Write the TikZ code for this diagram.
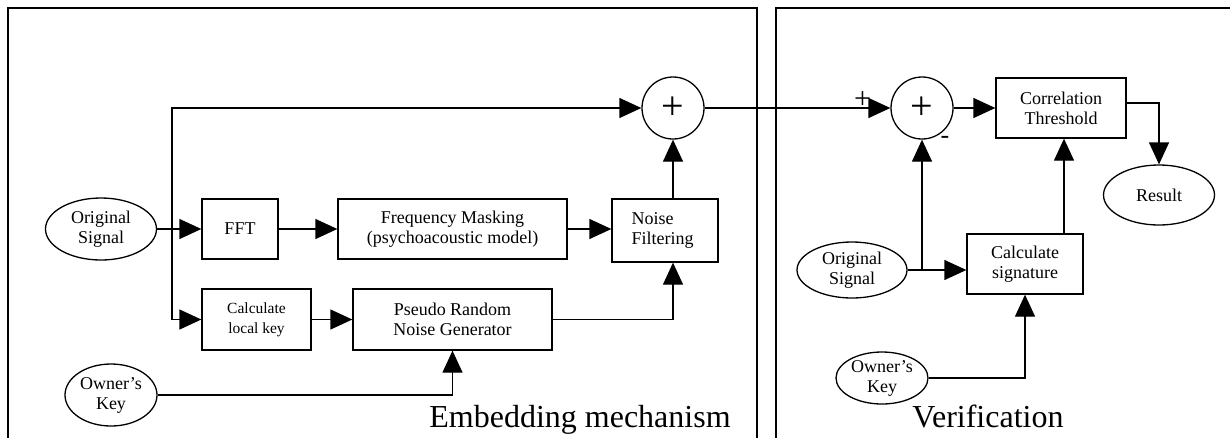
\documentclass[tikz,border=0pt]{standalone}
\usepackage{fontspec}
\setmainfont{Liberation Serif}
\usetikzlibrary{arrows.meta,shapes.geometric}

\tikzset{
  blok/.style={draw, line width=1.3pt, inner sep=0pt, align=center,
    font=\fontsize{18}{20}\selectfont},
  ovaal/.style={draw, ellipse, line width=1.3pt, inner sep=0pt, align=center,
    font=\fontsize{18}{20}\selectfont},
  som/.style={draw, circle, line width=1.3pt, minimum size=62pt, inner sep=0pt,
    font=\fontsize{40}{40}\selectfont},
  paneel/.style={draw, line width=2pt},
  pijl/.style={-{Triangle[length=22pt,width=20pt]}, line width=1.3pt},
  lijn/.style={line width=1.3pt},
}

\begin{document}
\begin{tikzpicture}[x=1pt,y=-1pt]
   \path[use as bounding box, clip] (0,0) rectangle (1230,437);

   % panelen
   \draw[paneel] (8,470) -- (8,8) -- (757,8) -- (757,470);
   \draw[paneel] (776,470) -- (776,8) -- (1245,8);

   % inbedding
   \node[ovaal, minimum width=111pt, minimum height=62pt] (orig) at (101,229) {Original\\Signal};
   \node[blok, minimum width=76pt, minimum height=60pt] (fft) at (240,229) {FFT};
   \node[blok, minimum width=229pt, minimum height=60pt] (mask) at (452.5,229) {Frequency Masking\\(psychoacoustic model)};
   \node[blok, minimum width=106pt, minimum height=63pt] (filt) at (665,230.5) {};
   \node[anchor=west, align=left, font=\fontsize{18}{20}\selectfont] (filttxt) at (628,230) {Noise\\Filtering};
   \node[blok, minimum width=109pt, minimum height=61pt, font=\fontsize{15.5}{20}\selectfont] (calc) at (256.5,319.5) {Calculate\\local key};
   \node[blok, minimum width=199pt, minimum height=61pt] (prng) at (452.5,319.5) {Pseudo Random\\Noise Generator};
   \node[ovaal, minimum width=92pt, minimum height=62pt] (owner) at (111,395) {Owner’s\\Key};
   \node[som] (sum) at (673,108) {+};
   \coordinate (split) at (172,229);

   \draw[lijn] (orig.east) -- (split);
   \draw[pijl] (split) -- (fft.west);
   \draw[pijl] (split) |- (sum.west);
   \draw[pijl] (split) |- (calc.west);
   \draw[pijl] (fft.east) -- (mask.west);
   \draw[pijl] (mask.east) -- (mask.east -| filt.west);
   \draw[pijl] (sum.south |- filt.north) -- (sum.south);
   \draw[pijl] (calc.east) -- (prng.west);
   \draw[pijl] (prng.east) -| (sum.south |- filt.south);
   \draw[pijl] (owner.east) -| (prng.south);

   \node[anchor=base, font=\fontsize{32}{32}\selectfont] (emb) at (580,427) {Embedding mechanism};

   % verificatie
   \node[som] (sum2) at (922,108) {+};
   \node[blok, minimum width=130pt, minimum height=60pt] (corr) at (1061,108) {Correlation\\Threshold};
   \node[ovaal, minimum width=111pt, minimum height=60pt] (result) at (1159,195) {Result};
   \node[ovaal, minimum width=110pt, minimum height=56pt] (orig2) at (852,270) {Original\\Signal};
   \node[blok, minimum width=116pt, minimum height=60pt] (calc2) at (1025,264) {Calculate\\signature};
   \node[ovaal, minimum width=92pt, minimum height=52pt] (owner2) at (882,378) {Owner’s\\Key};
   \coordinate (split2) at (sum2 |- orig2.east);

   \draw[pijl] (sum.east) -- (sum2.west) node[pos=0.85, above=-4pt, font=\fontsize{30}{30}\selectfont] {+};
   \node[font=\fontsize{26}{26}\selectfont] (min) at (945,140) {-};
   \draw[pijl] (sum2.east) -- (corr.west);
   \draw[pijl] ([yshift=5pt]corr.east) -| (result.north);
   \draw[pijl] (orig2.east) -- (orig2.east -| calc2.west);
   \draw[pijl] (split2) -- (sum2.south);
   \draw[pijl] (calc2.north -| 1064,0) -- (corr.south -| 1064,0);
   \draw[pijl] (owner2.east) -| (calc2.south);

   \node[anchor=base, font=\fontsize{32}{32}\selectfont] (ver) at (988,427) {Verification};
\end{tikzpicture}
\end{document}
